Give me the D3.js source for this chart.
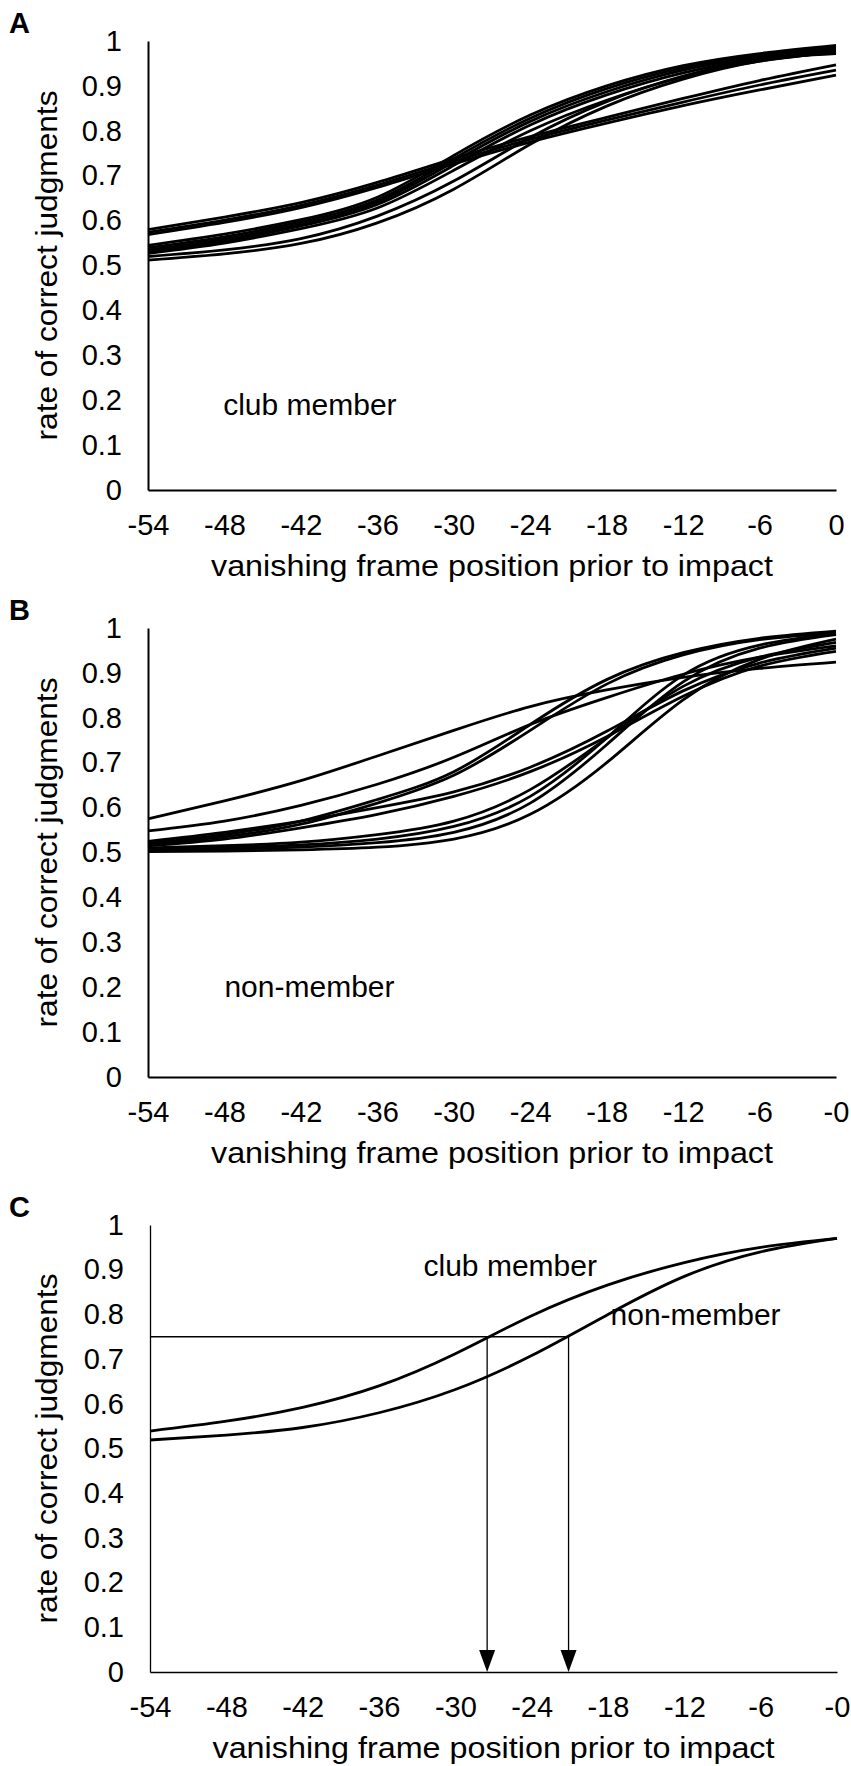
<!DOCTYPE html>
<html>
<head>
<meta charset="utf-8">
<script src="https://cdn.jsdelivr.net/npm/d3@7"></script>
<style>
  body { margin: 0; background: #fff; }
  svg { display: block; }
  text { font-family: "Liberation Sans", Arial, sans-serif; fill: #000; }
</style>
</head>
<body>
<div id="chart"></div>
<script>
// x positions where every curve is read (frames before impact)
let frames = [-54, -48, -42, -36, -30, -24, -18, -12, -6, 0];

let yTicks = [0, 0.1, 0.2, 0.3, 0.4, 0.5, 0.6, 0.7, 0.8, 0.9, 1];
let yTickLabels = ["0", "0.1", "0.2", "0.3", "0.4", "0.5", "0.6", "0.7", "0.8", "0.9", "1"];
let xTicks = [-54, -48, -42, -36, -30, -24, -18, -12, -6, 0];
let xTickLabelsA = ["-54", "-48", "-42", "-36", "-30", "-24", "-18", "-12", "-6", "0"];
let xTickLabelsBC = ["-54", "-48", "-42", "-36", "-30", "-24", "-18", "-12", "-6", "-0"];

// panel A: club members, one curve per participant
let clubCurves = [
  [0.580, 0.608, 0.640, 0.685, 0.738, 0.787, 0.830, 0.872, 0.912, 0.947],
  [0.574, 0.601, 0.634, 0.679, 0.732, 0.781, 0.824, 0.864, 0.902, 0.935],
  [0.569, 0.596, 0.629, 0.674, 0.726, 0.775, 0.817, 0.856, 0.891, 0.924],
  [0.545, 0.570, 0.602, 0.652, 0.745, 0.835, 0.900, 0.945, 0.972, 0.990],
  [0.540, 0.564, 0.597, 0.646, 0.738, 0.828, 0.894, 0.940, 0.969, 0.987],
  [0.535, 0.559, 0.592, 0.641, 0.731, 0.821, 0.887, 0.935, 0.965, 0.984],
  [0.530, 0.554, 0.588, 0.636, 0.723, 0.813, 0.880, 0.929, 0.961, 0.980],
  [0.527, 0.550, 0.582, 0.628, 0.712, 0.800, 0.868, 0.920, 0.955, 0.976],
  [0.512, 0.526, 0.549, 0.595, 0.670, 0.770, 0.855, 0.915, 0.955, 0.975],
  [0.520, 0.535, 0.560, 0.610, 0.688, 0.785, 0.865, 0.922, 0.958, 0.972]
];

// panel B: non-members
let nonCurves = [
  [0.575, 0.615, 0.660, 0.715, 0.772, 0.825, 0.862, 0.890, 0.910, 0.924],
  [0.548, 0.570, 0.605, 0.652, 0.712, 0.785, 0.845, 0.897, 0.935, 0.960],
  [0.522, 0.540, 0.570, 0.618, 0.680, 0.785, 0.885, 0.945, 0.977, 0.993],
  [0.518, 0.535, 0.563, 0.610, 0.672, 0.772, 0.875, 0.940, 0.974, 0.990],
  [0.525, 0.545, 0.570, 0.600, 0.635, 0.690, 0.770, 0.860, 0.922, 0.955],
  [0.515, 0.530, 0.555, 0.585, 0.625, 0.680, 0.758, 0.848, 0.915, 0.948],
  [0.505, 0.507, 0.512, 0.522, 0.545, 0.610, 0.740, 0.880, 0.955, 0.985],
  [0.508, 0.511, 0.517, 0.530, 0.558, 0.625, 0.755, 0.895, 0.962, 0.988],
  [0.502, 0.503, 0.506, 0.512, 0.530, 0.585, 0.700, 0.840, 0.930, 0.975],
  [0.510, 0.515, 0.523, 0.540, 0.570, 0.640, 0.755, 0.870, 0.935, 0.968]
];

// panel C: group means
let meanClub = [0.539, 0.561, 0.592, 0.640, 0.712, 0.797, 0.866, 0.916, 0.950, 0.970];
let meanNon = [0.519, 0.530, 0.547, 0.580, 0.632, 0.708, 0.800, 0.885, 0.940, 0.970];
let criterion = 0.75;
let crossFrames = [-27.5, -21.1];

let width = 851;
let height = 1766;

let svg = d3.select("#chart")
  .append("svg")
  .attr("width", width)
  .attr("height", height);

let line = d3.line().curve(d3.curveNatural);

function drawPanel(p) {
  let g = svg.append("g").attr("class", "panel" + p.letter);

  let xScale = d3.scaleLinear().domain([-54, 0]).range([p.left, p.right]);
  let yScale = d3.scaleLinear().domain([0, 1]).range([p.bottom, p.top]);

  let xAxis = d3.axisBottom(xScale)
    .tickValues(xTicks)
    .tickSize(0)
    .tickSizeOuter(0)
    .tickPadding(24)
    .tickFormat(function(d, i) { return p.xLabels[i]; });

  let yAxis = d3.axisLeft(yScale)
    .tickValues(yTicks)
    .tickSize(0)
    .tickSizeOuter(0)
    .tickPadding(26)
    .tickFormat(function(d, i) { return yTickLabels[i]; });

  let gx = g.append("g")
    .attr("transform", "translate(0," + p.bottom + ")")
    .call(xAxis);
  let gy = g.append("g")
    .attr("transform", "translate(" + p.left + ",0)")
    .call(yAxis);

  [gx, gy].forEach(function(ax) {
    ax.attr("font-family", null).attr("font-size", null);
    ax.select(".domain").attr("stroke", "#000").attr("stroke-width", p.axisWidth);
    ax.selectAll("text").attr("font-size", 29).attr("fill", "#000");
  });

  // curves
  g.selectAll("path.curve")
    .data(p.curves)
    .enter()
    .append("path")
    .attr("class", "curve")
    .attr("fill", "none")
    .attr("stroke", "#000")
    .attr("stroke-width", 2.8)
    .attr("d", function(vals) {
      return line(vals.map(function(v, i) { return [xScale(frames[i]), yScale(v)]; }));
    });

  // panel letter
  g.append("text")
    .attr("x", 9)
    .attr("y", p.top - 8)
    .attr("font-size", 29)
    .attr("font-weight", "bold")
    .text(p.letter);

  // axis titles
  g.append("text")
    .attr("x", (p.left + p.right) / 2)
    .attr("y", p.bottom + 86)
    .attr("text-anchor", "middle")
    .attr("font-size", 30)
    .attr("textLength", 562)
    .attr("lengthAdjust", "spacingAndGlyphs")
    .text("vanishing frame position prior to impact");

  g.append("text")
    .attr("transform", "translate(57," + (p.top + p.bottom) / 2 + ")rotate(-90)")
    .attr("text-anchor", "middle")
    .attr("font-size", 30)
    .attr("textLength", 350)
    .attr("lengthAdjust", "spacingAndGlyphs")
    .text("rate of correct judgments");

  p.notes.forEach(function(n) {
    g.append("text")
      .attr("x", xScale(n.x))
      .attr("y", yScale(n.y))
      .attr("font-size", 30)
      .text(n.text);
  });

  return { g: g, xScale: xScale, yScale: yScale };
}

drawPanel({
  letter: "A", top: 41, bottom: 490, left: 148, right: 836, axisWidth: 2,
  curves: clubCurves, xLabels: xTickLabelsA,
  notes: [{ text: "club member", x: -48.1, y: 0.167 }]
});

drawPanel({
  letter: "B", top: 628, bottom: 1077, left: 148, right: 836, axisWidth: 2,
  curves: nonCurves, xLabels: xTickLabelsBC,
  notes: [{ text: "non-member", x: -48.0, y: 0.178 }]
});

let c = drawPanel({
  letter: "C", top: 1225, bottom: 1672, left: 150, right: 837, axisWidth: 1.3,
  curves: [meanClub, meanNon], xLabels: xTickLabelsBC,
  notes: [
    { text: "club member", x: -32.5, y: 0.886 },
    { text: "non-member", x: -17.8, y: 0.777 }
  ]
});

// criterion line and arrows down to the frame axis
c.g.append("line")
  .attr("x1", c.xScale(-54))
  .attr("x2", c.xScale(d3.max(crossFrames)))
  .attr("y1", c.yScale(criterion))
  .attr("y2", c.yScale(criterion))
  .attr("stroke", "#000")
  .attr("stroke-width", 1.3);

crossFrames.forEach(function(f) {
  let x = c.xScale(f);
  let y0 = c.yScale(0);
  c.g.append("line")
    .attr("x1", x).attr("x2", x)
    .attr("y1", c.yScale(criterion))
    .attr("y2", y0 - 18)
    .attr("stroke", "#000")
    .attr("stroke-width", 1.3);
  c.g.append("path")
    .attr("d", "M" + (x - 8) + "," + (y0 - 22) + "L" + (x + 8) + "," + (y0 - 22) + "L" + x + "," + y0 + "Z")
    .attr("fill", "#000");
});
</script>
</body>
</html>
